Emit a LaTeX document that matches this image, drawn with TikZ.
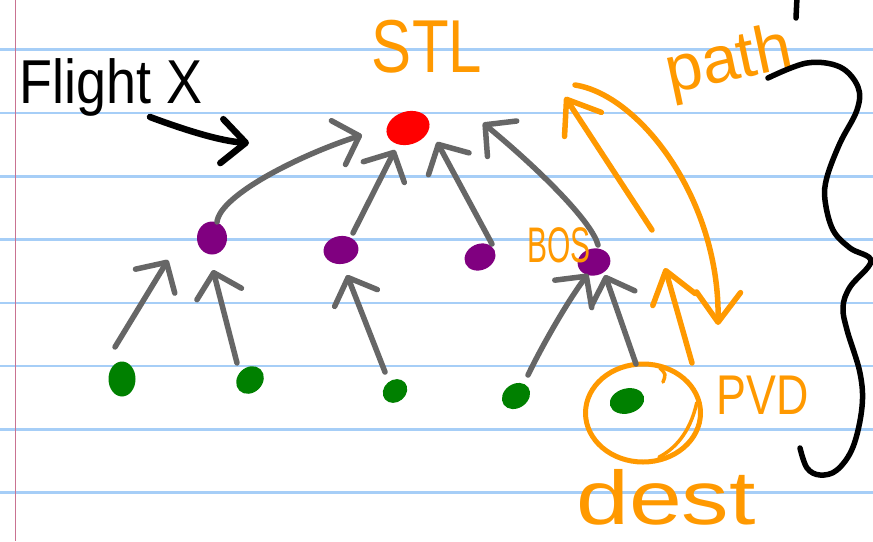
\documentclass[tikz,border=0pt]{standalone}
\usepackage{fontspec}
\setmainfont{Liberation Sans}
\usepackage{graphicx}
\usetikzlibrary{arrows.meta,shapes.geometric,calc}
\definecolor{rule}{HTML}{A6CEF7}
\definecolor{marginred}{HTML}{C97391}
\definecolor{ink}{HTML}{000000}
\definecolor{pen}{HTML}{FF9900}
\definecolor{edge}{HTML}{666666}
\definecolor{hub}{HTML}{FF0000}
\definecolor{mid}{HTML}{800080}
\definecolor{leaf}{HTML}{008000}
\tikzset{
  blob/.style={ellipse, inner sep=0pt, outer sep=0pt, draw=none},
  garrow/.style={draw=edge, line width=5.5pt, line cap=round, line join=round,
    -{Straight Barb[length=22pt,width=46pt,round]}},
  oarrow/.style={draw=pen, line width=5.5pt, line cap=round, line join=round,
    -{Straight Barb[length=30pt,width=44pt,round]}},
  karrow/.style={draw=ink, line width=6.5pt, line cap=round, line join=round,
    -{Straight Barb[length=24pt,width=44pt,round]}},
  hand/.style={inner sep=0pt, outer sep=0pt, anchor=base},
  stroke/.style={line width=5.5pt, line cap=round, line join=round},
}
\begin{document}
\begin{tikzpicture}[x=1pt,y=-1pt]
\useasboundingbox (0,0) rectangle (873,541);
\fill[white] (0,0) rectangle (873,541);
% ruled paper
\foreach \y in {49.5,113,176.3,239.5,302.8,366,429.3,492.5}
  \draw[rule, line width=2.5pt] (0,\y) -- (873,\y);
\draw[marginred, line width=1.8pt] (15.5,0) -- (15.5,541);

% airports
\node[blob, fill=hub, minimum width=44pt, minimum height=33pt, rotate=18] (stl) at (408,128) {};
\node[blob, fill=mid, minimum width=30pt, minimum height=33pt] (p1) at (212,238) {};
\node[blob, fill=mid, minimum width=35pt, minimum height=28pt, rotate=8] (p2) at (341,250) {};
\node[blob, fill=mid, minimum width=32pt, minimum height=26pt, rotate=25] (p3) at (480,257) {};
\node[blob, fill=mid, minimum width=33pt, minimum height=27pt, rotate=12] (bos) at (594,262) {};
\node[blob, fill=leaf, minimum width=27pt, minimum height=35pt] (g1) at (122,379) {};
\node[blob, fill=leaf, minimum width=30pt, minimum height=25pt, rotate=45] (g2) at (250,380) {};
\node[blob, fill=leaf, minimum width=26pt, minimum height=22pt, rotate=40] (g3) at (395,391) {};
\node[blob, fill=leaf, minimum width=30pt, minimum height=24pt, rotate=35] (g4) at (516,396) {};
\node[blob, fill=leaf, minimum width=35pt, minimum height=25pt, rotate=15] (g5) at (627,401) {};

% destination ring
\node[ellipse, draw=pen, line width=5pt, inner sep=0pt, minimum width=115pt, minimum height=98pt] (ring) at (643,413) {};
\draw[pen, stroke, line width=3.5pt] ($(ring.10)+(-5,0)$) .. controls ($(ring.-25)+(-6,-3)$) and ($(ring.-50)+(-5,-5)$) .. ($(ring.-70)+(-2,-5)$);
\draw[pen, stroke, line width=3.5pt] ($(ring.80)+(8,6)$) .. controls ($(ring.80)+(14,12)$) .. ($(ring.80)+(11,20)$);

% labels
\node[hand, text=ink, font=\fontsize{62}{62}\selectfont] (flight) at (111,103) {\scalebox{0.87}[1]{Flight X}};
\node[hand, text=pen, font=\fontsize{75}{75}\selectfont] (stllabel) at (427,72) {\scalebox{0.8}[1]{STL}};
\node[hand, text=pen, font=\fontsize{66}{66}\selectfont, rotate=12] (pathlabel) at (733,80) {path};
\node[hand, text=pen, font=\fontsize{50}{50}\selectfont] (boslabel) at (559,262) {\scalebox{0.6}[1]{BOS}};
\node[hand, text=pen, font=\fontsize{56}{56}\selectfont] (pvdlabel) at (763,414) {\scalebox{0.8}[1]{PVD}};
\node[hand, text=pen, font=\fontsize{76}{76}\selectfont] (destlabel) at (666,524) {\scalebox{1.25}[1]{dest}};

% flight arrow
\coordinate (flighttip) at (249,143);
\draw[karrow] ($(flight.base)+(39,14)$) .. controls (185,130) and (220,141) .. (flighttip);

% routes towards the hub
\draw[garrow] ($(p1)+(5,-16)$) .. controls (220,195) and (300,155) .. ($(stl)+(-46,7)$);
\draw[garrow] ($(p2)+(12,-17)$) -- ($(stl)+(-13,22)$);
\draw[garrow] ($(p3)+(12,-13)$) -- ($(stl)+(29,14)$);
\draw[garrow] ($(bos)+(4,-17)$) .. controls (592,222) and (540,170) .. ($(stl)+(75,-5)$);
\draw[garrow] ($(g1)+(-7,-32)$) -- ($(p1)+(-44,22)$);
\draw[garrow] ($(g2)+(-13,-17)$) -- ($(p1)+(1,32)$);
\draw[garrow] ($(g3)+(-10,-19)$) -- ($(p2)+(6,25)$);
\draw[garrow] ($(g4)+(12,-21)$) .. controls (540,350) and (565,305) .. ($(bos)+(-6,12)$);
\draw[garrow] ($(g5)+(9,-37)$) -- ($(bos)+(11,13)$);

% path arrows
\coordinate (bosside) at (652,230);
\coordinate (uptip) at (565,97);
\coordinate (loopstart) at (575,85);
\coordinate (loopend) at (718,325);
\coordinate (risetip) at (665,268);
\draw[oarrow] (bosside) -- (uptip);
\draw[oarrow] (loopstart) .. controls (640,95) and (720,200) .. (loopend);
\draw[oarrow] ($(ring)+(49,-50)$) -- (risetip);

% brace
\draw[ink, stroke] plot[smooth, tension=0.6] coordinates {
  (768,78) (807,63) (840,67) (858,87) (857,110) (840,143) (827,177) (825,200)
  (833,230) (850,248) (871,261) (850,287) (843,307) (847,330) (860,373)
  (862,407) (853,447) (837,470) (820,475) (807,468) (800,448)};
\draw[ink, stroke] (797,-3) -- (796,18);
\end{tikzpicture}
\end{document}
